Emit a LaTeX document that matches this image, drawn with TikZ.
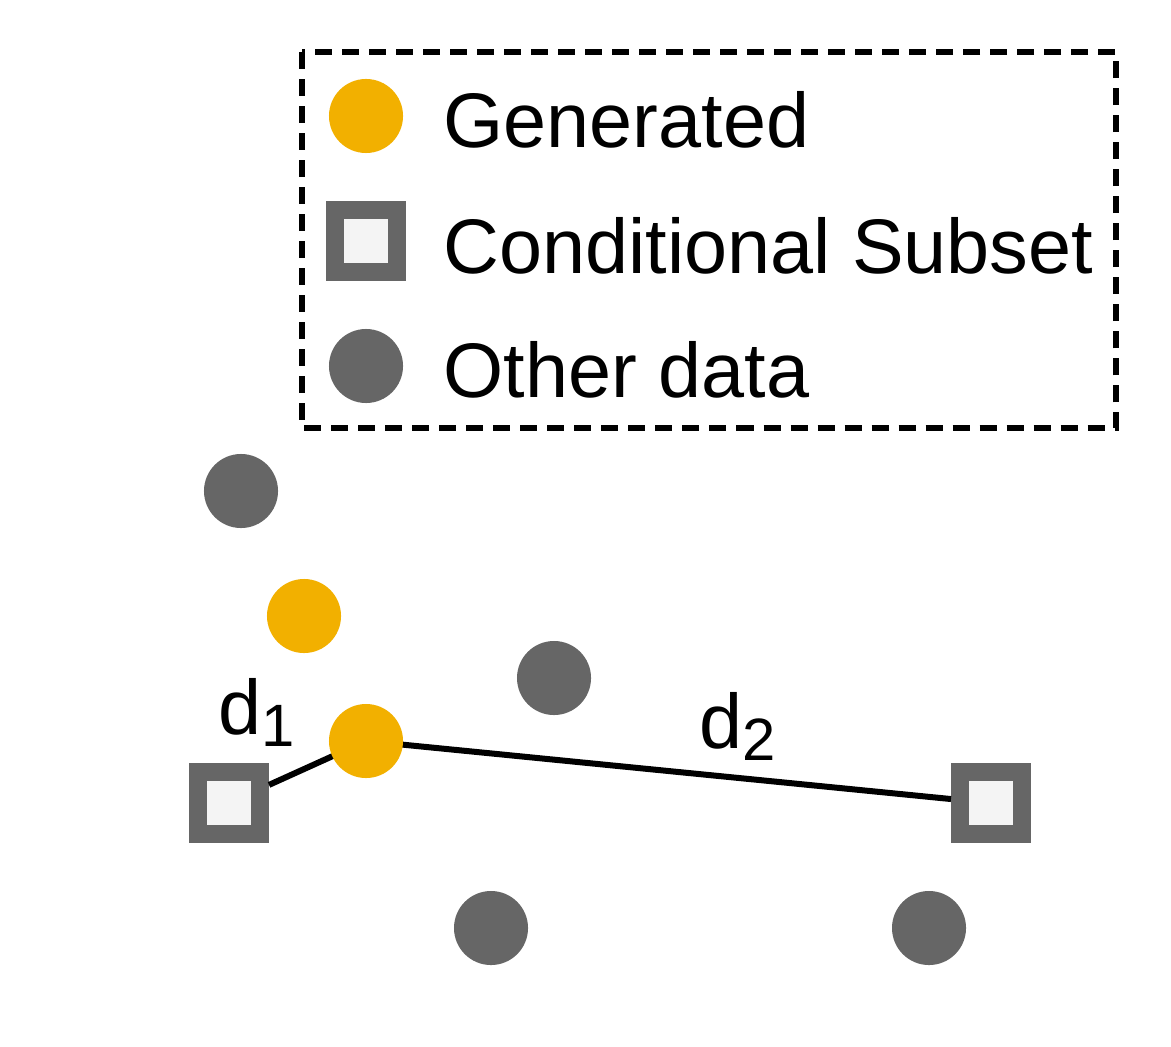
\documentclass[tikz,border=0pt]{standalone}
\usepackage{fontspec}
\setmainfont{Liberation Sans}
\definecolor{genyellow}{RGB}{242,176,0}
\definecolor{datagray}{RGB}{102,102,102}
\definecolor{boxfill}{RGB}{244,244,244}

\tikzset{
  gen/.style={circle, fill=genyellow, minimum size=0.74cm, inner sep=0pt},
  other/.style={circle, fill=datagray, minimum size=0.74cm, inner sep=0pt},
  subset/.style={rectangle, draw=datagray, fill=boxfill, line width=0.18cm, minimum size=0.62cm, inner sep=0pt},
  legendtext/.style={anchor=base west, font=\fontsize{22}{26}\selectfont, inner sep=0pt},
  dist/.style={line width=0.06cm}
}

\begin{document}
\begin{tikzpicture}[x=0.01cm, y=-0.01cm]
  \useasboundingbox (0,0) rectangle (1171,1046);
  % legend
  \draw[line width=0.06cm, dash pattern=on 0.17cm off 0.10cm] (302,52) rectangle (1116,428);
  \node[gen] (lgen) at (366,116) {};
  \node[subset] (lsub) at (366,241) {};
  \node[other] (loth) at (366,366) {};
  \node[legendtext] (tgen) at (443,148) {Generated};
  \node[legendtext] (tsub) at (443,273) {Conditional Subset};
  \node[legendtext] (toth) at (443,397) {Other data};
  % data points
  \node[other] (o1) at (241,491) {};
  \node[gen] (g1) at (304,616) {};
  \node[other] (o2) at (554,678) {};
  \node[subset] (s1) at (229,803) {};
  \node[subset] (s2) at (991,803) {};
  \node[other] (o3) at (491,928) {};
  \node[other] (o4) at (929,928) {};
  \draw[dist] (s1) -- (366,741) coordinate (c1);
  \draw[dist] (c1) -- (s2);
  \node[gen] (g2) at (c1) {};
  % distances
  \node[legendtext] (d1) at (218,734) {d\raisebox{-0.16em}{\fontsize{17}{20}\selectfont 1}};
  \node[legendtext] (d2) at (699,748) {d\raisebox{-0.16em}{\fontsize{17}{20}\selectfont 2}};
\end{tikzpicture}
\end{document}
